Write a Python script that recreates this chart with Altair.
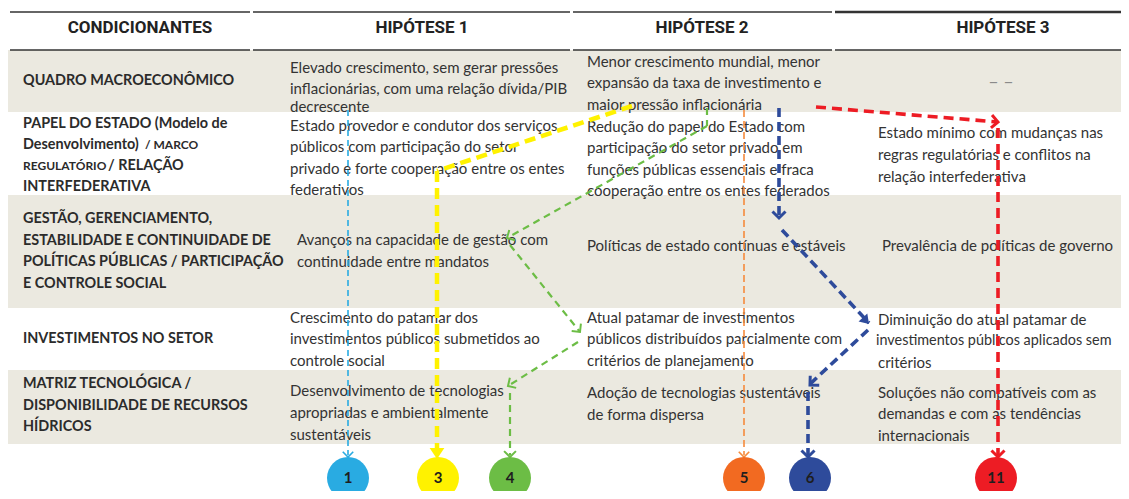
import altair as alt
import pandas as pd
import math

W, H = 1113, 483

# ---- table structure ----
header_text = ["CONDICIONANTES", "HIPÓTESE 1", "HIPÓTESE 2", "HIPÓTESE 3"]
header_x = [140, 422, 702, 1003]
header_y = [28, 28, 28, 28]

col_left = [10, 253, 573, 835]
col_right = [250, 570, 832, 1121]

band_top = [50, 195, 370]
band_bottom = [112, 308, 444]

# ---- row labels (column 0) ----
label_text = ["QUADRO MACROECONÔMICO", "PAPEL DO ESTADO (Modelo de", "Desenvolvimento)",
              "/ RELAÇÃO", "INTERFEDERATIVA",
              "GESTÃO, GERENCIAMENTO,", "ESTABILIDADE E CONTINUIDADE DE",
              "POLÍTICAS PÚBLICAS / PARTICIPAÇÃO", "E CONTROLE SOCIAL",
              "INVESTIMENTOS NO SETOR",
              "MATRIZ TECNOLÓGICA /", "DISPONIBILIDADE DE RECURSOS", "HÍDRICOS"]
label_x = [23, 23, 23, 108, 23, 23, 23, 23, 23, 23, 23, 23, 23]
label_y = [81, 124, 145, 166, 187, 219, 241, 262, 284, 339, 384, 406, 427]

small_text = ["/ MARCO", "REGULATÓRIO"]
small_x = [145, 23]
small_y = [145, 166]

# ---- cell texts ----
h1_text = ["Elevado crescimento, sem gerar pressões", "inflacionárias, com uma relação dívida/PIB",
           "decrescente", "Estado provedor e condutor dos serviços",
           "públicos com participação do setor", "privado e forte cooperação entre os entes",
           "federativos", "Avanços na capacidade de gestão com", "continuidade entre mandatos",
           "Crescimento do patamar dos", "investimentos públicos submetidos ao", "controle social",
           "Desenvolvimento de tecnologias", "apropriadas e ambientalmente", "sustentáveis"]
h1_x = [290, 290, 290, 290, 290, 290, 290, 297, 297, 290, 290, 290, 290, 290, 290]
h1_y = [68, 89, 107, 126, 147, 169, 190, 240, 262, 318, 339, 361, 391, 413, 435]

h2_text = ["Menor crescimento mundial, menor", "expansão da taxa de investimento e",
           "maior pressão inflacionária", "Redução do papel do Estado com",
           "participação do setor privado em", "funções públicas essenciais e fraca",
           "cooperação entre os entes federados", "Políticas de estado contínuas e estáveis",
           "Atual patamar de investimentos", "públicos distribuídos parcialmente com",
           "critérios de planejamento", "Adoção de tecnologias sustentáveis", "de forma dispersa"]
h2_x = [587] * 13
h2_y = [62, 83, 105, 127, 148, 170, 191, 246, 318, 339, 361, 393, 415]

h3_text = ["Estado mínimo com mudanças nas", "regras regulatórias e conflitos na",
           "relação interfederativa", "Prevalência de políticas de governo",
           "Diminuição do atual patamar de", "investimentos públicos aplicados sem",
           "critérios", "Soluções não compatíveis com as", "demandas e com as tendências",
           "internacionais"]
h3_x = [878, 878, 878, 882, 878, 876, 878, 878, 878, 878]
h3_y = [133, 155, 177, 246, 320, 341, 363, 393, 414, 436]
h3_size = [15, 15, 15, 15, 15, 14.4, 15, 15, 15, 15]

dash_text = ["– –"]
dash_x = [1001]
dash_y = [83]

# ---- numbered circles ----
circle_num = ["1", "3", "4", "5", "6", "11"]
circle_x = [348, 438, 510, 744, 810, 996]
circle_y = [478, 478, 478, 478, 478, 478]
circle_col = ["#29abe2", "#fff200", "#6cbd45", "#f26a21", "#2e4b9b", "#ed1c24"]

# ---- dashed arrow paths (segments) ----
seg_style = ["blue1", "yellow", "yellow", "green", "green", "green", "green", "green",
             "orange", "navy", "navy", "navy", "navy", "red", "red"]
seg_x = [348, 632, 437, 707, 707, 510, 578, 510, 744, 779, 782, 868, 808, 816, 998]
seg_y = [110, 106, 171, 108, 126, 245, 342, 393, 110, 108, 230, 330, 392, 107, 128]
seg_x2 = [348, 437, 437, 707, 507, 580, 508, 510, 744, 779, 869, 810, 808, 998, 998]
seg_y2 = [455, 171, 455, 126, 238, 332, 386, 455, 455, 216, 323, 384, 455, 122, 455]

# ---- arrow heads: (style, tip x, tip y, from x, from y, kind) ----
head_style = ["blue1", "yellow", "green", "green", "green", "green", "orange",
              "navy", "navy", "navy", "navy", "red", "red"]
head_x = [348, 437, 507, 580, 508, 510, 744, 779, 869, 810, 808, 998, 998]
head_y = [457, 459, 238, 332, 386, 457, 457, 218, 324, 385, 457, 122, 457]
head_fx = [348, 437, 707, 510, 578, 510, 744, 779, 782, 868, 808, 816, 998]
head_fy = [110, 171, 126, 245, 342, 393, 110, 108, 230, 330, 392, 107, 128]
head_kind = ["open", "solid", "open", "open", "open", "open", "open",
             "open", "solid", "open", "open", "open", "open"]

styles = {
    "blue1": dict(color="#29abe2", width=1.6, dash=[6, 4], hsize=110, hw=1.6),
    "yellow": dict(color="#fff200", width=4.5, dash=[11, 6], hsize=260, hw=3),
    "green": dict(color="#6cbd45", width=2.2, dash=[7, 5], hsize=140, hw=2),
    "orange": dict(color="#f58a3c", width=1.6, dash=[7, 4], hsize=110, hw=1.6),
    "navy": dict(color="#2e4b9b", width=3.6, dash=[9, 5], hsize=170, hw=3),
    "red": dict(color="#ed1c24", width=3.6, dash=[10, 6], hsize=170, hw=3),
}

# ---------------------------------------------------------------
xs = alt.Scale(domain=[8, 8 + W], range=[0, W], nice=False, zero=False)
ys = alt.Scale(domain=[8, 8 + H], range=[0, H], nice=False, zero=False)
X = lambda f="x": alt.X(f"{f}:Q", scale=xs, axis=None)
Y = lambda f="y": alt.Y(f"{f}:Q", scale=ys, axis=None)

layers = []

bands = pd.DataFrame({"x": [8] * 3, "x2": [8 + W] * 3, "y": band_top, "y2": band_bottom})
layers.append(alt.Chart(bands).mark_rect(color="#ebe9e0").encode(
    x=X(), x2="x2:Q", y=Y(), y2="y2:Q"))

rules = pd.DataFrame({"x": col_left * 2, "x2": col_right * 2,
                      "y": [12] * 4 + [50] * 4,
                      "w": [1.3, 1.3, 1.3, 2.6, 1.3, 1.3, 1.3, 1.3]})
layers.append(alt.Chart(rules).mark_rule(color="#333333").encode(
    x=X(), x2="x2:Q", y=Y(), strokeWidth=alt.StrokeWidth("w:Q", scale=None)))

hdr = pd.DataFrame({"x": header_x, "y": header_y, "t": header_text})
layers.append(alt.Chart(hdr).mark_text(
    font="Liberation Sans Narrow, Roboto", fontWeight="bold", fontSize=17,
    color="#222222", align="center", baseline="middle").encode(x=X(), y=Y(), text="t:N"))

lab = pd.DataFrame({"x": label_x, "y": label_y, "t": label_text})
layers.append(alt.Chart(lab).mark_text(
    font="Lato", fontWeight="bold", fontSize=14.4, color="#2b2b2b",
    align="left", baseline="middle").encode(x=X(), y=Y(), text="t:N"))

sm = pd.DataFrame({"x": small_x, "y": small_y, "t": small_text})
layers.append(alt.Chart(sm).mark_text(
    font="Lato", fontWeight="bold", fontSize=12, color="#2b2b2b",
    align="left", baseline="middle").encode(x=X(), y=Y(), text="t:N"))

body = pd.DataFrame({"x": h1_x + h2_x + h3_x, "y": h1_y + h2_y + h3_y,
                     "t": h1_text + h2_text + h3_text,
                     "fs": [15] * (len(h1_x) + len(h2_x)) + h3_size})
layers.append(alt.Chart(body).mark_text(
    font="Lato", color="#333333",
    align="left", baseline="middle").encode(
    x=X(), y=Y(), text="t:N", size=alt.Size("fs:Q", scale=None)))

dsh = pd.DataFrame({"x": dash_x, "y": dash_y, "t": dash_text})
layers.append(alt.Chart(dsh).mark_text(
    font="Lato", fontSize=18, color="#8a8a8a",
    align="center", baseline="middle").encode(x=X(), y=Y(), text="t:N"))

# arrows
segs = pd.DataFrame({"s": seg_style, "x": seg_x, "y": seg_y, "x2": seg_x2, "y2": seg_y2})
angles = [math.degrees(math.atan2(ty - fy, tx - fx)) % 360
          for tx, ty, fx, fy in zip(head_x, head_y, head_fx, head_fy)]
heads = pd.DataFrame({"s": head_style, "x": head_x, "y": head_y, "a": angles, "k": head_kind})

for name, st in styles.items():
    layers.append(alt.Chart(segs).transform_filter(alt.datum.s == name).mark_rule(
        color=st["color"], strokeWidth=st["width"], strokeDash=st["dash"]).encode(
        x=X(), y=Y(), x2="x2:Q", y2="y2:Q"))
    layers.append(alt.Chart(heads).transform_filter(
        (alt.datum.s == name) & (alt.datum.k == "open")).mark_point(
        shape="M-1,-1L0,0L-1,1", filled=False, stroke=st["color"],
        strokeWidth=st["hw"], size=st["hsize"], opacity=1).encode(
        x=X(), y=Y(), angle=alt.Angle("a:Q", scale=None)))
    layers.append(alt.Chart(heads).transform_filter(
        (alt.datum.s == name) & (alt.datum.k == "solid")).mark_point(
        shape="M0,0L-1.2,-0.8L-1.2,0.8Z", filled=True, fill=st["color"],
        size=st["hsize"] * 1.3, opacity=1).encode(
        x=X(), y=Y(), angle=alt.Angle("a:Q", scale=None)))

circ = pd.DataFrame({"x": circle_x, "y": circle_y, "t": circle_num, "c": circle_col})
layers.append(alt.Chart(circ).mark_point(shape="circle", filled=True, size=1764, opacity=1).encode(
    x=X(), y=Y(), fill=alt.Fill("c:N", scale=None)))
layers.append(alt.Chart(circ).mark_text(
    font="Lato", fontWeight="bold", fontSize=15, color="#1e1e1e",
    align="center", baseline="middle").encode(x=X(), y=alt.Y("y:Q", scale=ys, axis=None), text="t:N"))

chart = alt.layer(*layers).properties(
    width=W, height=H, autosize=alt.AutoSizeParams(type="none"), padding=0,
    background="white").configure_view(stroke=None)

chart.save("out.html", embed_options={"renderer": "svg", "actions": False})
